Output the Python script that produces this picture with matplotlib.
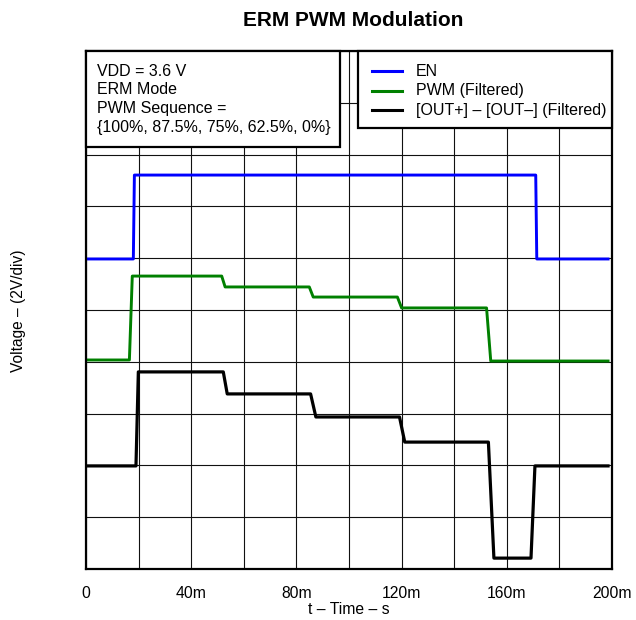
import matplotlib
matplotlib.use("Agg")
import matplotlib.pyplot as plt
from matplotlib.patches import Rectangle
from matplotlib.lines import Line2D

plt.rcParams['font.family'] = ['Liberation Sans', 'DejaVu Sans']

# ---- data (time in ms, voltage on a 2 V/div screen, 10 divisions) ----
t_en = [0.4, 18.0, 18.4, 171.0, 171.4, 198.5]
v_en = [11.97, 11.97, 15.21, 15.21, 11.97, 11.97]

t_pwm = [0.4, 16.5, 17.6, 51.6, 52.9, 84.9, 86.4, 118.4, 120.0, 152.3, 153.9, 198.5]
v_pwm = [8.07, 8.07, 11.31, 11.31, 10.89, 10.89, 10.50, 10.50, 10.08, 10.08, 8.03, 8.03]

t_out = [0.4, 19.0, 19.9, 52.2, 53.7, 85.4, 87.4, 119.2, 121.2, 153.0, 155.1, 169.2, 170.7, 198.5]
v_out = [3.98, 3.98, 7.61, 7.61, 6.76, 6.76, 5.87, 5.87, 4.90, 4.90, 0.42, 0.42, 3.98, 3.98]

x_ticks = [0, 40, 80, 120, 160, 200]
x_tick_labels = ['0', '40m', '80m', '120m', '160m', '200m']

series_labels = ['EN', 'PWM (Filtered)', '[OUT+] \u2013 [OUT\u2013] (Filtered)']
series_colors = ['#0000ff', '#008000', '#000000']

info_lines = ['VDD = 3.6 V', 'ERM Mode', 'PWM Sequence =',
              '{100%, 87.5%, 75%, 62.5%, 0%}']

# ---- figure ----
W, H = 636, 620
fig = plt.figure(figsize=(W / 100, H / 100), dpi=100)

def fx(x):
    return x / W

def fy(y):
    return 1 - y / H

L, R, T, B = 86, 612, 51, 569
ax = fig.add_axes([fx(L), fy(B), (R - L) / W, (B - T) / H])

ax.set_xlim(0, 200)
ax.set_ylim(0, 20)
ax.set_xticks([i * 20 for i in range(11)])
ax.set_xticklabels(['' if (i % 2) else x_tick_labels[i // 2] for i in range(11)])
ax.set_yticks([i * 2 for i in range(11)])
ax.set_yticklabels([])
ax.tick_params(length=0, labelsize=11.3, pad=12)
ax.grid(True, color='#111111', linewidth=0.8)
ax.set_axisbelow(True)
for s in ax.spines.values():
    s.set_linewidth(1.6)

lw = 2.1
ax.plot(t_en, v_en, color=series_colors[0], lw=lw, solid_joinstyle='round')
ax.plot(t_pwm, v_pwm, color=series_colors[1], lw=lw, solid_joinstyle='round')
ax.plot(t_out, v_out, color=series_colors[2], lw=lw + 0.2, solid_joinstyle='round')

# title and axis labels
fig.text(fx(353), fy(20), 'ERM PWM Modulation', ha='center', va='center',
         fontsize=15.0, fontweight='bold')
fig.text(fx(349), fy(609), 't \u2013 Time \u2013 s', ha='center', va='center', fontsize=11.3)
fig.text(fx(19), fy(311), 'Voltage \u2013 (2V/div)', ha='center', va='center',
         rotation=90, fontsize=11.2)

# info box
fig.patches.append(Rectangle((fx(86), fy(147)), (340 - 86) / W, (147 - 51) / H,
                             transform=fig.transFigure, facecolor='white',
                             edgecolor='black', linewidth=1.6, zorder=5))
for i, s in enumerate(info_lines):
    fig.text(fx(97), fy(71 + i * 18.7), s, ha='left', va='center', fontsize=11.5, zorder=6)

# legend box
fig.patches.append(Rectangle((fx(358), fy(128)), (612 - 358) / W, (128 - 51) / H,
                             transform=fig.transFigure, facecolor='white',
                             edgecolor='black', linewidth=1.6, zorder=5))
for i, (lab, col) in enumerate(zip(series_labels, series_colors)):
    yy = fy(71 + i * 19.5)
    fig.lines.append(Line2D([fx(372), fx(402)], [yy, yy], transform=fig.transFigure,
                            color=col, linewidth=2.2, zorder=6))
    fig.text(fx(416), yy, lab, ha='left', va='center', fontsize=11.5, zorder=6)

fig.savefig('out.png', dpi=100)
